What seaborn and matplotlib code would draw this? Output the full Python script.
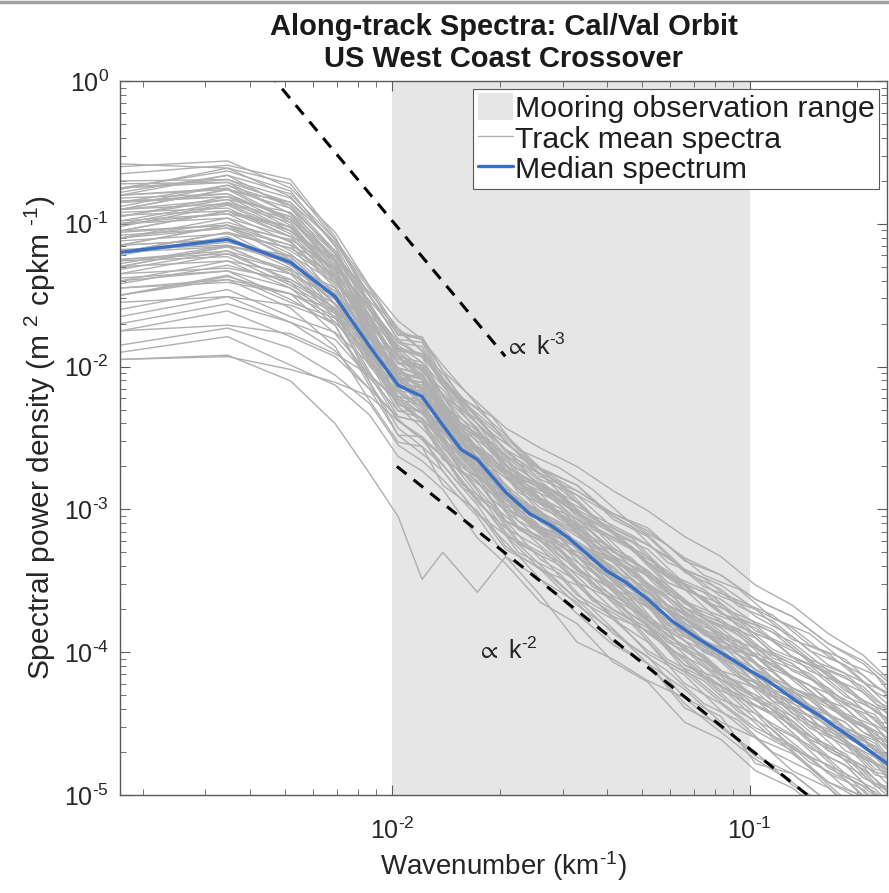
import numpy as np
import pandas as pd
import matplotlib
matplotlib.use("Agg")
import matplotlib.pyplot as plt
from matplotlib.patches import Patch
from matplotlib.lines import Line2D
from matplotlib.ticker import LogLocator, NullFormatter, FuncFormatter
import seaborn as sns

# Wavenumbers (cpkm) of the first group of track spectra
track_wavenumber_a = [0.00173, 0.00346, 0.00519, 0.00692, 0.00865, 0.01038, 0.01211,
                      0.01384, 0.0173, 0.02076, 0.02595, 0.03287, 0.04152, 0.0519,
                      0.06574, 0.08304, 0.1038, 0.13148, 0.16608, 0.2076, 0.2422]
# Wavenumbers (cpkm) of the second group of track spectra
track_wavenumber_b = [0.00173, 0.00346, 0.00519, 0.00692, 0.00865, 0.01038, 0.01211,
                      0.01557, 0.01903, 0.02249, 0.02941, 0.03633, 0.04671, 0.05882,
                      0.07439, 0.09342, 0.11591, 0.14705, 0.18511, 0.2249, 0.2422]

# log10 spectral power density of each track-mean spectrum (group a)
track_a01 = [-0.58, -0.61, -0.72, -1.11, -1.44, -1.75, -1.81, -2.08, -2.35, -2.52, -2.77, -2.87, -3.03, -3.13, -3.36, -3.46, -3.63, -3.75, -3.94, -4.06, -4.20]
track_a02 = [-0.75, -0.63, -0.77, -1.16, -1.66, -2.03, -2.09, -2.36, -2.65, -2.93, -3.05, -3.33, -3.50, -3.75, -3.92, -4.16, -4.25, -4.45, -4.67, -4.80, -4.98]
track_a03 = [-0.85, -0.73, -0.87, -1.21, -1.58, -1.91, -2.03, -2.16, -2.45, -2.73, -2.85, -3.07, -3.20, -3.33, -3.56, -3.66, -3.85, -3.97, -4.17, -4.28, -4.43]
track_a04 = [-1.95, -1.93, -2.02, -2.11, -2.21, -2.38, -2.51, -2.63, -2.93, -3.18, -3.32, -3.60, -3.75, -4.01, -4.16, -4.41, -4.60, -4.71, -4.91, -5.01, -5.18]
track_a05 = [-1.75, -1.71, -1.77, -1.91, -2.06, -2.23, -2.33, -2.46, -2.75, -2.90, -3.15, -3.25, -3.40, -3.63, -3.76, -3.96, -4.03, -4.25, -4.37, -4.56, -4.63]
track_a06 = [-1.00, -0.86, -1.05, -1.33, -1.71, -1.93, -2.09, -2.26, -2.57, -2.76, -3.02, -3.15, -3.43, -3.55, -3.80, -3.91, -4.13, -4.27, -4.49, -4.61, -4.76]
track_a07 = [-1.20, -1.06, -1.29, -1.56, -1.96, -2.28, -2.43, -2.59, -2.90, -3.08, -3.35, -3.50, -3.77, -3.93, -4.22, -4.36, -4.55, -4.69, -4.91, -5.04, -5.23]
track_a08 = [-1.10, -1.03, -1.15, -1.31, -1.58, -1.83, -1.86, -2.13, -2.33, -2.50, -2.72, -2.83, -3.05, -3.18, -3.42, -3.53, -3.70, -3.83, -4.03, -4.16, -4.30]
track_a09 = [-1.50, -1.36, -1.55, -1.66, -1.91, -2.11, -2.26, -2.36, -2.65, -2.93, -3.04, -3.33, -3.55, -3.68, -3.99, -4.13, -4.33, -4.48, -4.69, -4.82, -4.96]
track_a10 = [-0.70, -0.69, -0.82, -1.13, -1.46, -1.78, -1.79, -2.03, -2.25, -2.43, -2.57, -2.70, -2.87, -3.01, -3.19, -3.33, -3.53, -3.67, -3.87, -4.02, -4.18]
track_a11 = [-1.65, -1.51, -1.69, -1.89, -2.16, -2.48, -2.49, -2.73, -3.03, -3.23, -3.49, -3.65, -3.93, -4.08, -4.36, -4.56, -4.75, -4.91, -5.11, -5.21, -5.36]
track_a12 = [-0.90, -0.76, -0.99, -1.36, -1.81, -2.05, -2.21, -2.35, -2.63, -2.78, -2.99, -3.10, -3.33, -3.45, -3.69, -3.79, -3.97, -4.08, -4.29, -4.44, -4.60]
track_a13 = [-1.35, -1.21, -1.39, -1.59, -1.98, -2.18, -2.31, -2.43, -2.73, -2.88, -3.12, -3.23, -3.48, -3.58, -3.84, -3.98, -4.17, -4.29, -4.49, -4.64, -4.80]
track_a14 = [-0.75, -0.71, -0.85, -1.19, -1.56, -1.88, -1.93, -2.21, -2.43, -2.73, -2.89, -3.15, -3.37, -3.61, -3.79, -4.03, -4.15, -4.38, -4.51, -4.72, -4.82]
track_a15 = [-1.85, -1.73, -1.87, -2.06, -2.26, -2.55, -2.66, -2.79, -3.05, -3.33, -3.49, -3.73, -3.95, -4.08, -4.39, -4.51, -4.73, -4.85, -5.05, -5.16, -5.26]
track_a16 = [-1.05, -0.91, -1.09, -1.23, -1.48, -1.73, -1.89, -2.05, -2.35, -2.60, -2.75, -3.00, -3.15, -3.37, -3.52, -3.73, -3.81, -4.03, -4.14, -4.34, -4.42]
track_a17 = [-1.15, -1.11, -1.25, -1.56, -1.86, -2.21, -2.23, -2.51, -2.70, -3.00, -3.13, -3.27, -3.41, -3.63, -3.76, -3.96, -4.03, -4.25, -4.39, -4.52, -4.68]
track_a18 = [-1.45, -1.41, -1.49, -1.61, -1.81, -2.01, -2.06, -2.31, -2.47, -2.66, -2.82, -2.95, -3.17, -3.28, -3.52, -3.63, -3.80, -3.93, -4.13, -4.24, -4.40]
track_a19 = [-0.80, -0.66, -0.89, -1.26, -1.71, -2.08, -2.11, -2.41, -2.70, -2.98, -3.15, -3.40, -3.65, -3.81, -4.09, -4.23, -4.43, -4.58, -4.81, -4.94, -5.08]
track_a20 = [-1.30, -1.16, -1.35, -1.66, -2.06, -2.38, -2.49, -2.63, -2.95, -3.13, -3.27, -3.51, -3.63, -3.87, -4.04, -4.27, -4.37, -4.51, -4.73, -4.86, -5.00]
track_a21 = [-0.95, -0.81, -0.95, -1.29, -1.61, -1.83, -1.93, -2.09, -2.40, -2.58, -2.85, -3.00, -3.27, -3.43, -3.69, -3.83, -4.03, -4.17, -4.37, -4.51, -4.68]
track_a22 = [-1.60, -1.46, -1.65, -1.76, -1.98, -2.31, -2.31, -2.57, -2.77, -3.08, -3.22, -3.47, -3.70, -3.83, -4.12, -4.33, -4.43, -4.68, -4.79, -5.00, -5.06]
track_a23 = [-0.65, -0.59, -0.69, -1.09, -1.56, -1.91, -2.03, -2.19, -2.40, -2.58, -2.79, -2.90, -3.13, -3.25, -3.42, -3.61, -3.70, -3.91, -4.01, -4.21, -4.28]
track_a24 = [-1.40, -1.33, -1.45, -1.71, -2.11, -2.43, -2.56, -2.69, -2.97, -3.26, -3.42, -3.67, -3.85, -4.08, -4.26, -4.49, -4.60, -4.83, -4.95, -5.18, -5.26]
track_a25 = [-0.85, -0.79, -0.97, -1.31, -1.78, -2.15, -2.17, -2.45, -2.63, -2.93, -3.02, -3.25, -3.37, -3.59, -3.74, -3.95, -4.03, -4.25, -4.35, -4.56, -4.66]
track_a26 = [-1.20, -1.16, -1.22, -1.41, -1.71, -1.95, -1.99, -2.21, -2.37, -2.58, -2.72, -2.87, -3.03, -3.15, -3.34, -3.46, -3.63, -3.75, -3.94, -4.08, -4.23]
track_a27 = [-1.75, -1.61, -1.79, -1.93, -2.16, -2.35, -2.39, -2.65, -2.80, -3.08, -3.19, -3.43, -3.55, -3.77, -3.92, -4.13, -4.21, -4.43, -4.54, -4.74, -4.82]
track_a28 = [-1.05, -1.01, -1.15, -1.51, -1.94, -2.25, -2.39, -2.56, -2.87, -3.16, -3.39, -3.63, -3.87, -4.03, -4.32, -4.53, -4.70, -4.93, -5.07, -5.28, -5.38]
track_a29 = [-1.55, -1.51, -1.57, -1.69, -1.91, -2.08, -2.21, -2.33, -2.60, -2.88, -3.01, -3.25, -3.49, -3.61, -3.89, -4.01, -4.21, -4.35, -4.57, -4.70, -4.84]
track_a30 = [-0.60, -0.56, -0.75, -1.06, -1.44, -1.68, -1.81, -1.99, -2.27, -2.53, -2.75, -2.95, -3.17, -3.38, -3.56, -3.79, -3.90, -4.13, -4.25, -4.46, -4.56]
track_a31 = [-1.15, -1.01, -1.25, -1.61, -2.11, -2.48, -2.61, -2.73, -3.03, -3.18, -3.42, -3.53, -3.75, -3.85, -4.09, -4.19, -4.37, -4.48, -4.69, -4.82, -4.96]
track_a32 = [-1.30, -1.26, -1.35, -1.51, -1.78, -2.01, -2.16, -2.29, -2.57, -2.73, -2.95, -3.07, -3.30, -3.43, -3.66, -3.77, -3.95, -4.08, -4.27, -4.40, -4.56]
track_a33 = [-1.00, -0.93, -1.02, -1.39, -1.84, -2.08, -2.13, -2.39, -2.67, -2.93, -3.17, -3.33, -3.57, -3.78, -3.96, -4.19, -4.30, -4.53, -4.65, -4.88, -4.96]
track_a34 = [-1.90, -1.79, -1.99, -2.13, -2.34, -2.63, -2.73, -2.86, -3.20, -3.38, -3.65, -3.80, -4.07, -4.21, -4.49, -4.61, -4.83, -4.95, -5.15, -5.26, -5.40]
track_a35 = [-0.90, -0.83, -0.92, -1.21, -1.51, -1.81, -1.83, -2.11, -2.30, -2.48, -2.71, -2.83, -3.07, -3.19, -3.44, -3.56, -3.75, -3.89, -4.09, -4.21, -4.36]
track_a36 = [-1.25, -1.19, -1.32, -1.49, -1.88, -2.09, -2.25, -2.39, -2.67, -2.84, -3.09, -3.23, -3.51, -3.65, -3.92, -4.05, -4.25, -4.39, -4.59, -4.72, -4.86]
track_a37 = [-1.70, -1.56, -1.69, -1.81, -2.08, -2.31, -2.36, -2.51, -2.70, -2.88, -3.02, -3.17, -3.33, -3.53, -3.69, -3.89, -3.97, -4.18, -4.29, -4.50, -4.60]
track_a38 = [-0.80, -0.76, -0.85, -1.13, -1.51, -1.75, -1.89, -2.11, -2.40, -2.68, -2.92, -3.13, -3.37, -3.58, -3.82, -4.01, -4.17, -4.31, -4.53, -4.66, -4.80]
track_a39 = [-1.50, -1.39, -1.59, -1.86, -2.24, -2.53, -2.56, -2.83, -3.01, -3.28, -3.41, -3.63, -3.77, -3.99, -4.14, -4.35, -4.53, -4.65, -4.85, -4.96, -5.12]
track_a40 = [-1.10, -0.96, -1.19, -1.39, -1.68, -1.98, -2.01, -2.27, -2.45, -2.70, -2.83, -3.03, -3.17, -3.38, -3.54, -3.73, -3.83, -4.03, -4.15, -4.36, -4.46]
track_a41 = [-1.95, -1.92, -2.10, -2.40, -2.75, -3.05, -3.49, -3.30, -3.58, -3.33, -3.60, -3.93, -4.05, -4.20, -4.32, -4.45, -4.78, -4.85, -5.05, -5.20, -5.30]

# log10 spectral power density of each track-mean spectrum (group b)
track_b01 = [-0.80, -0.75, -0.97, -1.29, -1.68, -2.01, -2.05, -2.48, -2.63, -2.88, -3.03, -3.28, -3.44, -3.71, -3.84, -4.06, -4.18, -4.41, -4.53, -4.74, -4.76]
track_b02 = [-0.95, -0.83, -1.05, -1.26, -1.66, -1.89, -2.03, -2.36, -2.61, -2.76, -2.90, -3.12, -3.26, -3.51, -3.62, -3.82, -3.92, -4.13, -4.23, -4.42, -4.46]
track_b03 = [-1.10, -0.99, -1.12, -1.43, -1.81, -2.03, -2.17, -2.50, -2.75, -2.90, -3.15, -3.29, -3.56, -3.71, -3.96, -4.06, -4.30, -4.41, -4.62, -4.74, -4.82]
track_b04 = [-1.30, -1.16, -1.35, -1.53, -1.81, -2.13, -2.15, -2.60, -2.73, -3.00, -3.13, -3.39, -3.54, -3.81, -3.94, -4.16, -4.28, -4.51, -4.63, -4.84, -4.86]
track_b05 = [-0.90, -0.86, -0.99, -1.36, -1.76, -2.11, -2.15, -2.62, -2.77, -3.04, -3.19, -3.44, -3.60, -3.89, -4.02, -4.24, -4.36, -4.59, -4.71, -4.92, -4.94]
track_b06 = [-1.20, -1.06, -1.17, -1.36, -1.66, -1.97, -1.99, -2.40, -2.53, -2.76, -2.89, -3.12, -3.26, -3.51, -3.62, -3.82, -3.92, -4.05, -4.27, -4.38, -4.48]
track_b07 = [-0.75, -0.69, -0.87, -1.21, -1.61, -1.93, -1.97, -2.40, -2.55, -2.70, -2.95, -3.10, -3.36, -3.53, -3.76, -3.88, -4.10, -4.23, -4.45, -4.56, -4.66]
track_b08 = [-1.40, -1.26, -1.45, -1.63, -1.94, -2.27, -2.31, -2.74, -2.89, -3.14, -3.29, -3.54, -3.70, -3.97, -4.10, -4.32, -4.44, -4.67, -4.79, -5.00, -5.02]
track_b09 = [-1.00, -0.96, -1.09, -1.41, -1.72, -2.05, -2.09, -2.52, -2.67, -2.80, -3.03, -3.16, -3.40, -3.55, -3.76, -3.86, -4.06, -4.17, -4.37, -4.46, -4.56]
track_b10 = [-1.15, -1.11, -1.31, -1.61, -2.00, -2.21, -2.33, -2.64, -2.87, -3.00, -3.23, -3.36, -3.60, -3.75, -3.96, -4.06, -4.26, -4.37, -4.57, -4.66, -4.76]
track_b11 = [-0.85, -0.81, -0.95, -1.23, -1.56, -1.87, -1.91, -2.24, -2.47, -2.60, -2.83, -2.96, -3.12, -3.37, -3.48, -3.68, -3.78, -3.99, -4.09, -4.28, -4.32]
track_b12 = [-1.25, -1.21, -1.33, -1.63, -2.04, -2.35, -2.39, -2.82, -2.97, -3.22, -3.37, -3.62, -3.78, -4.05, -4.18, -4.40, -4.60, -4.73, -4.95, -5.06, -5.14]
track_b13 = [-1.05, -0.91, -1.02, -1.33, -1.64, -1.85, -1.97, -2.28, -2.51, -2.74, -2.97, -3.20, -3.44, -3.61, -3.84, -3.96, -4.18, -4.31, -4.53, -4.64, -4.74]
track_b14 = [-0.90, -0.76, -0.89, -1.19, -1.71, -2.05, -2.21, -2.52, -2.79, -2.92, -3.19, -3.32, -3.60, -3.75, -4.00, -4.10, -4.34, -4.45, -4.69, -4.78, -4.88]
track_b15 = [-1.35, -1.31, -1.39, -1.56, -1.84, -2.03, -2.15, -2.46, -2.69, -2.82, -3.05, -3.28, -3.42, -3.67, -3.88, -3.98, -4.18, -4.39, -4.49, -4.68, -4.72]
track_b16 = [-0.98, -0.93, -1.13, -1.45, -1.84, -2.17, -2.19, -2.62, -2.87, -3.12, -3.27, -3.52, -3.78, -3.95, -4.18, -4.30, -4.52, -4.73, -4.85, -5.06, -5.08]
track_b17 = [-1.12, -1.07, -1.17, -1.37, -1.76, -1.97, -2.09, -2.50, -2.63, -2.86, -2.99, -3.22, -3.36, -3.61, -3.82, -3.92, -4.12, -4.23, -4.43, -4.52, -4.62]
track_b18 = [-1.45, -1.39, -1.49, -1.77, -2.06, -2.25, -2.37, -2.66, -2.89, -3.02, -3.25, -3.38, -3.62, -3.77, -3.98, -4.08, -4.28, -4.39, -4.59, -4.68, -4.78]
track_b19 = [-0.78, -0.66, -0.79, -1.11, -1.50, -1.81, -1.93, -2.24, -2.47, -2.60, -2.83, -3.06, -3.20, -3.45, -3.56, -3.76, -3.86, -4.07, -4.17, -4.36, -4.40]
track_b20 = [-1.20, -1.13, -1.23, -1.51, -1.90, -2.11, -2.27, -2.58, -2.81, -2.94, -3.19, -3.32, -3.56, -3.71, -3.92, -4.02, -4.22, -4.33, -4.53, -4.62, -4.72]
track_b21 = [-0.92, -0.89, -1.09, -1.39, -1.70, -1.93, -2.05, -2.46, -2.71, -2.94, -3.17, -3.30, -3.56, -3.81, -3.94, -4.16, -4.38, -4.51, -4.73, -4.84, -4.92]
track_b22 = [-1.28, -1.15, -1.27, -1.47, -1.78, -2.09, -2.11, -2.52, -2.65, -2.78, -2.91, -3.04, -3.28, -3.43, -3.64, -3.74, -3.84, -4.05, -4.15, -4.34, -4.38]
track_b23 = [-1.02, -0.87, -1.07, -1.37, -1.78, -2.01, -2.15, -2.56, -2.79, -2.92, -3.15, -3.40, -3.56, -3.83, -3.96, -4.18, -4.30, -4.53, -4.65, -4.86, -4.88]
track_b24 = [-0.82, -0.79, -1.01, -1.31, -1.58, -1.89, -1.91, -2.32, -2.55, -2.68, -2.91, -3.14, -3.28, -3.53, -3.74, -3.84, -4.04, -4.15, -4.35, -4.44, -4.54]
track_b25 = [-1.32, -1.19, -1.41, -1.69, -1.96, -2.17, -2.29, -2.60, -2.83, -3.08, -3.23, -3.48, -3.64, -3.91, -4.04, -4.26, -4.38, -4.61, -4.73, -4.94, -4.96]
track_b26 = [-1.08, -1.03, -1.23, -1.53, -1.92, -2.23, -2.27, -2.70, -2.85, -2.98, -3.11, -3.26, -3.42, -3.67, -3.78, -3.98, -4.08, -4.29, -4.39, -4.58, -4.62]
track_b27 = [-0.72, -0.71, -0.93, -1.25, -1.64, -1.97, -2.01, -2.44, -2.59, -2.84, -2.99, -3.24, -3.40, -3.67, -3.80, -4.02, -4.14, -4.37, -4.49, -4.70, -4.72]
track_b28 = [-1.38, -1.33, -1.53, -1.71, -2.14, -2.37, -2.51, -2.84, -2.99, -3.24, -3.39, -3.64, -3.80, -4.07, -4.20, -4.42, -4.54, -4.77, -4.89, -5.10, -5.12]
track_b29 = [-1.15, -1.01, -1.21, -1.49, -1.78, -2.09, -2.11, -2.42, -2.57, -2.80, -2.93, -3.16, -3.40, -3.55, -3.76, -3.96, -4.06, -4.27, -4.47, -4.56, -4.66]
track_b30 = [-0.88, -0.73, -0.93, -1.27, -1.74, -2.07, -2.19, -2.62, -2.85, -3.00, -3.25, -3.40, -3.66, -3.93, -4.06, -4.28, -4.40, -4.63, -4.85, -4.96, -5.04]
track_b31 = [-1.22, -1.09, -1.29, -1.45, -1.74, -2.05, -2.07, -2.48, -2.71, -2.96, -3.11, -3.36, -3.52, -3.79, -3.92, -4.14, -4.26, -4.49, -4.61, -4.82, -4.84]
track_b32 = [-0.98, -0.85, -0.97, -1.25, -1.54, -1.77, -1.81, -2.22, -2.35, -2.58, -2.71, -2.86, -3.10, -3.25, -3.46, -3.56, -3.76, -3.87, -4.07, -4.16, -4.26]
track_b33 = [-1.50, -1.37, -1.49, -1.65, -1.92, -2.15, -2.29, -2.72, -2.97, -3.12, -3.37, -3.52, -3.68, -3.95, -4.18, -4.30, -4.52, -4.65, -4.87, -4.98, -5.06]
track_b34 = [-1.06, -1.01, -1.11, -1.31, -1.60, -1.93, -2.07, -2.40, -2.65, -2.80, -3.05, -3.20, -3.46, -3.63, -3.86, -3.98, -4.20, -4.33, -4.55, -4.66, -4.76]
track_b35 = [-0.84, -0.81, -1.03, -1.33, -1.74, -2.07, -2.11, -2.42, -2.55, -2.68, -2.81, -3.04, -3.18, -3.33, -3.54, -3.64, -3.74, -3.95, -4.05, -4.24, -4.28]
track_b36 = [-1.26, -1.23, -1.43, -1.61, -1.90, -2.23, -2.37, -2.80, -3.05, -3.30, -3.45, -3.70, -3.96, -4.13, -4.36, -4.48, -4.70, -4.83, -5.05, -5.16, -5.24]
track_b37 = [-0.94, -0.91, -1.05, -1.35, -1.80, -2.15, -2.17, -2.48, -2.71, -2.84, -3.07, -3.20, -3.34, -3.59, -3.70, -3.80, -4.00, -4.11, -4.31, -4.40, -4.50]
track_b38 = [-1.18, -1.15, -1.25, -1.57, -1.88, -2.21, -2.25, -2.68, -2.93, -3.08, -3.33, -3.48, -3.74, -3.91, -4.14, -4.36, -4.58, -4.81, -5.03, -5.14, -5.22]
track_b39 = [-0.76, -0.61, -0.81, -1.15, -1.56, -1.87, -2.01, -2.44, -2.69, -2.82, -2.95, -3.08, -3.22, -3.47, -3.58, -3.78, -3.98, -4.09, -4.29, -4.48, -4.50]
track_b40 = [-1.42, -1.29, -1.41, -1.59, -1.88, -2.09, -2.21, -2.64, -2.79, -3.04, -3.29, -3.44, -3.70, -3.87, -4.10, -4.22, -4.44, -4.67, -4.79, -5.00, -5.02]

# Median spectrum over all tracks
median_wavenumber = [0.00173, 0.00346, 0.00519, 0.00692, 0.00865, 0.01038, 0.01211, 0.01384,
                     0.01557, 0.0173, 0.02076, 0.02422, 0.02768, 0.03114, 0.0346, 0.03979,
                     0.04498, 0.0519, 0.06055, 0.0692, 0.07785, 0.0865, 0.10034, 0.11245,
                     0.12456, 0.1384, 0.1557, 0.173, 0.1903, 0.2076, 0.2249, 0.2422]
median_log_psd = [-1.20, -1.11, -1.27, -1.51, -1.86, -2.13, -2.21, -2.41,
                  -2.58, -2.65, -2.88, -3.03, -3.11, -3.20, -3.30, -3.43,
                  -3.51, -3.63, -3.78, -3.88, -3.96, -4.03, -4.13, -4.20,
                  -4.28, -4.36, -4.44, -4.52, -4.59, -4.66, -4.72, -4.78]

# Mooring observation band and power-law guide lines
mooring_range = [0.01, 0.1]
k3_wavenumber = [0.0045, 0.0207]
k3_psd = [1.15, 0.0118]
k2_wavenumber = [0.0103, 0.145]
k2_psd = [2.0e-3, 1.0e-5]

tracks_a = [track_a01, track_a02, track_a03, track_a04, track_a05, track_a06, track_a07,
            track_a08, track_a09, track_a10, track_a11, track_a12, track_a13, track_a14,
            track_a15, track_a16, track_a17, track_a18, track_a19, track_a20, track_a21,
            track_a22, track_a23, track_a24, track_a25, track_a26, track_a27, track_a28,
            track_a29, track_a30, track_a31, track_a32, track_a33, track_a34, track_a35,
            track_a36, track_a37, track_a38, track_a39, track_a40, track_a41]
tracks_b = [track_b01, track_b02, track_b03, track_b04, track_b05, track_b06, track_b07,
            track_b08, track_b09, track_b10, track_b11, track_b12, track_b13, track_b14,
            track_b15, track_b16, track_b17, track_b18, track_b19, track_b20, track_b21,
            track_b22, track_b23, track_b24, track_b25, track_b26, track_b27, track_b28,
            track_b29, track_b30, track_b31, track_b32, track_b33, track_b34, track_b35,
            track_b36, track_b37, track_b38, track_b39, track_b40]

rows = []
tid = 0
for grid, group in ((track_wavenumber_a, tracks_a), (track_wavenumber_b, tracks_b)):
    for tr in group:
        for k, lp in zip(grid, tr):
            rows.append((tid, k, 10.0 ** lp))
        tid += 1
tracks_df = pd.DataFrame(rows, columns=["track", "wavenumber", "psd"])
median_df = pd.DataFrame({"wavenumber": median_wavenumber,
                          "psd": 10.0 ** np.array(median_log_psd)})

sns.set_style("ticks")
plt.rcParams.update({
    "font.family": ["Liberation Sans", "DejaVu Sans"],
    "mathtext.fontset": "custom",
    "mathtext.rm": "Liberation Sans",
    "mathtext.it": "Liberation Sans:italic",
    "mathtext.bf": "Liberation Sans:bold",
    "mathtext.fallback": "stixsans",
    "axes.unicode_minus": False,
    "text.color": "#1f1f1f",
})

GRAY = "#afafaf"
BLUE = "#3a70c4"
AXC = "#5a5a5a"
TXT = "#262626"

fig = plt.figure(figsize=(8.89, 8.93), dpi=100)
ax = fig.add_axes([120 / 889, 98 / 893, 767 / 889, 714 / 893])
ax.set_xscale("log")
ax.set_yscale("log")

ax.axvspan(mooring_range[0], mooring_range[1], color="#e6e6e6", lw=0, zorder=0)

sns.lineplot(data=tracks_df, x="wavenumber", y="psd", units="track", estimator=None,
             sort=False, color=GRAY, lw=1.0, legend=False, ax=ax, zorder=2)

ax.plot(k3_wavenumber, k3_psd, color="black", lw=2.2, ls=(0, (4, 3)), zorder=3)
ax.plot(k2_wavenumber, k2_psd, color="black", lw=2.2, ls=(0, (4, 3)), zorder=3)

sns.lineplot(data=median_df, x="wavenumber", y="psd", color=BLUE, lw=2.4,
             legend=False, ax=ax, zorder=4)

ax.text(0.0206, 0.0121, r"$\propto$ k$^{\text{-}3}$", fontsize=18, ha="left",
        va="baseline", color=TXT, zorder=5)
ax.text(0.0171, 8.9e-5, r"$\propto$ k$^{\text{-}2}$", fontsize=18, ha="left",
        va="baseline", color=TXT, zorder=5)


def pow10_label(v, pos):
    e = int(round(np.log10(v)))
    if e < 0:
        return r"$10^{\text{-}%d}$" % (-e)
    return r"$10^{%d}$" % e


ax.set_xlim(0.00173, 0.2422)
ax.set_ylim(1e-5, 1)
ax.yaxis.set_major_locator(LogLocator(base=10, numticks=10))
ax.yaxis.set_minor_locator(LogLocator(base=10, subs=np.arange(2, 10), numticks=20))
ax.xaxis.set_minor_locator(LogLocator(base=10, subs=np.arange(2, 10), numticks=20))
ax.xaxis.set_major_formatter(FuncFormatter(pow10_label))
ax.yaxis.set_major_formatter(FuncFormatter(pow10_label))
ax.xaxis.set_minor_formatter(NullFormatter())
ax.yaxis.set_minor_formatter(NullFormatter())

ax.tick_params(which="both", direction="in", top=True, right=True, color=AXC,
               labelsize=18, labelcolor=TXT)
ax.tick_params(which="major", length=7, width=0.8)
ax.tick_params(which="minor", length=4, width=0.6)
ax.tick_params(axis="x", pad=16)
ax.tick_params(axis="y", pad=8)
for sp in ax.spines.values():
    sp.set_color(AXC)
    sp.set_linewidth(1.0)
    sp.set_zorder(6)

ax.set_xlabel(r"Wavenumber (km$^{\text{-}1}$)", fontsize=20, labelpad=4, color=TXT)
ax.set_ylabel(r"Spectral power density (m $^{2}$ cpkm $^{\text{-}1}$)", fontsize=21.5,
              labelpad=4, color=TXT)
ax.set_title("Along-track Spectra: Cal/Val Orbit\nUS West Coast Crossover",
             fontsize=21, fontweight="bold", pad=10, color="#1a1a1a", linespacing=1.2)

handles = [Patch(facecolor="#e6e6e6", edgecolor="none"),
           Line2D([], [], color=GRAY, lw=1.0),
           Line2D([], [], color=BLUE, lw=2.4)]
labels = ["Mooring observation range", "Track mean spectra", "Median spectrum"]
leg = ax.legend(handles, labels, loc="upper right", fontsize=21.8, frameon=True,
                fancybox=False, framealpha=1, edgecolor=AXC, borderpad=0.15,
                labelspacing=0.02, handlelength=1.15, handleheight=1.0,
                handletextpad=0.08, borderaxespad=0.25)
leg.get_frame().set_linewidth(0.8)
leg.set_zorder(7)

fig.add_artist(Line2D([0, 1], [0.9975, 0.9975], color="#a0a0a0", lw=2.5,
                      transform=fig.transFigure))

fig.savefig("out.png", dpi=100)
